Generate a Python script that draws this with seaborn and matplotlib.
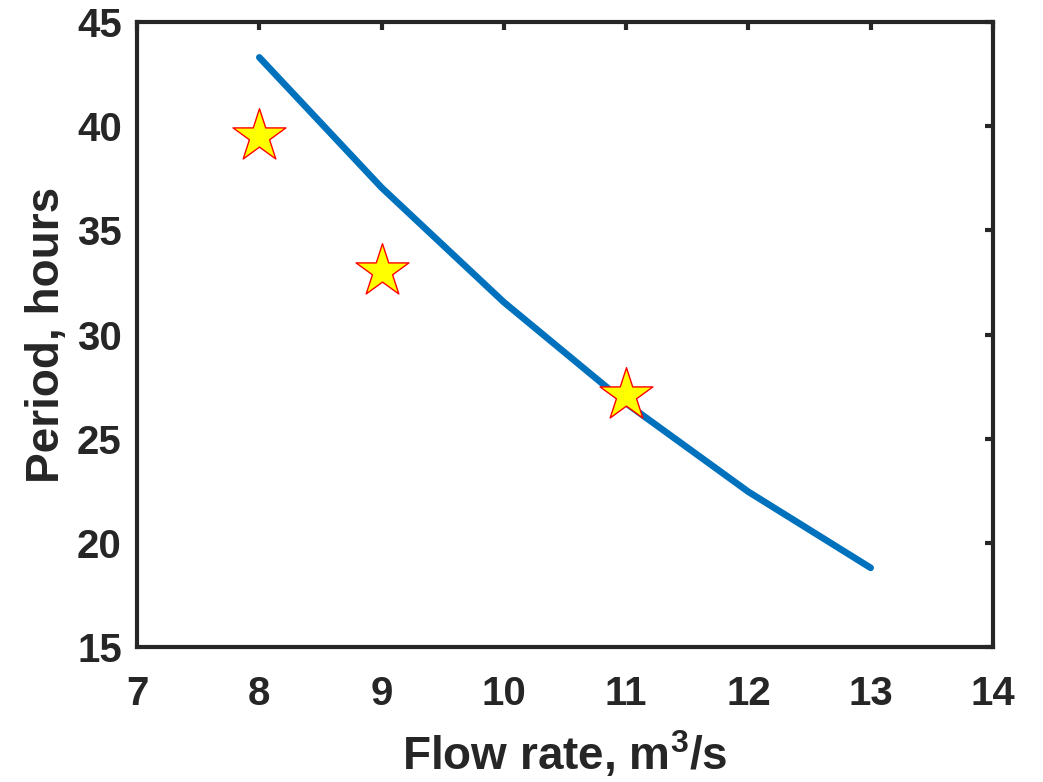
import matplotlib
matplotlib.use("Agg")
import matplotlib.pyplot as plt
import seaborn as sns
import pandas as pd

# model curve
flow_rate = [8, 9, 10, 11, 12, 13]
period = [43.3, 37.05, 31.55, 26.7, 22.45, 18.8]

# measured points
obs_flow = [8, 9, 11]
obs_period = [39.55, 33.05, 27.1]

x_ticks = [7, 8, 9, 10, 11, 12, 13, 14]
y_ticks = [15, 20, 25, 30, 35, 40, 45]

sns.set_style("white")
plt.rcParams["font.family"] = ["Liberation Sans", "DejaVu Sans"]
plt.rcParams["font.weight"] = "bold"
plt.rcParams["mathtext.fontset"] = "custom"
plt.rcParams["mathtext.bf"] = "Liberation Sans:bold"
plt.rcParams["mathtext.rm"] = "Liberation Sans:bold"
plt.rcParams["mathtext.default"] = "bf"

text_col = "#262626"

fig = plt.figure(figsize=(10.43, 7.82), dpi=100)
ax = fig.add_axes([0.1314, 0.1726, 0.8206, 0.7993])

curve = pd.DataFrame({"flow": flow_rate, "period": period})
obs = pd.DataFrame({"flow": obs_flow, "period": obs_period})

sns.lineplot(data=curve, x="flow", y="period", ax=ax, color="#0072BD",
             linewidth=4.8, zorder=2)
sns.scatterplot(data=obs, x="flow", y="period", ax=ax, marker="*",
                s=40 ** 2, color="#FFFF00", edgecolor="#FF0000",
                linewidth=1.0, zorder=3)

ax.set_xlim(7, 14)
ax.set_ylim(15, 45)
ax.set_xticks(x_ticks)
ax.set_yticks(y_ticks)
ax.set_xticklabels([str(v) for v in x_ticks])
ax.set_yticklabels([str(v) for v in y_ticks])

for sp in ax.spines.values():
    sp.set_visible(True)
    sp.set_color(text_col)
    sp.set_linewidth(3.0)

ax.tick_params(axis="both", direction="in", length=6, width=3.0,
               color=text_col, labelcolor=text_col, labelsize=29,
               top=True, right=True)
ax.tick_params(axis="x", pad=20)
ax.tick_params(axis="y", pad=11)

ax.set_xlabel(r"Flow rate, m$^3$/s", fontsize=33, fontweight="bold",
              color=text_col, labelpad=12)
ax.set_ylabel("Period, hours", fontsize=33, fontweight="bold",
              color=text_col, labelpad=6)

fig.savefig("out.png", dpi=100, facecolor="white")
